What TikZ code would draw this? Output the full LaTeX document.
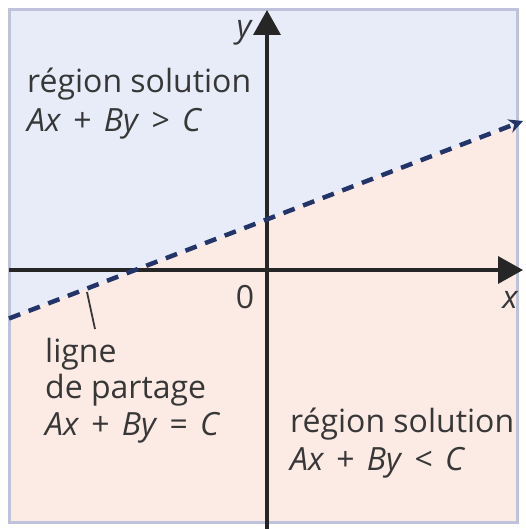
\documentclass[tikz,border=0pt]{standalone}
\usepackage{fontspec}
\setmainfont{Open Sans}
\usetikzlibrary{arrows.meta}
\definecolor{upblue}{RGB}{231,236,248}
\definecolor{lowpink}{RGB}{252,234,228}
\definecolor{framec}{RGB}{190,194,218}
\definecolor{navy}{RGB}{35,52,105}
\definecolor{txt}{RGB}{55,55,55}
\newcommand{\opr}[1]{\kern0.38em#1\kern0.38em}
\begin{document}
\begin{tikzpicture}[x=1pt,y=-1pt,
  lbl/.style={anchor=base west,inner sep=0pt,text=txt,font=\fontsize{32}{36}\selectfont},
  axlbl/.style={inner sep=0pt,text=txt,font=\fontsize{32}{36}\selectfont},
  axis/.style={line width=3.5pt,black!85,-{Triangle[length=25pt,width=27pt]}},
  divline/.style={line width=4.5pt,navy,dash pattern=on 12pt off 9pt,-{Stealth[length=14pt,width=14pt]}}]
\useasboundingbox (0,0) rectangle (525,529);
% regions
\fill[upblue] (9,10) -- (517,10) -- (517,123.5) -- (9,318.5) -- cycle;
\fill[lowpink] (9,318.5) -- (517,123.5) -- (517,522) -- (9,522) -- cycle;
\draw[framec,line width=3pt] (9,10) rectangle (517,522);
% axes
\coordinate (xl) at (9,270);
\coordinate (xr) at (523,270);
\coordinate (yb) at (267,529);
\coordinate (yt) at (267,10);
\draw[axis] (xl) -- (xr);
\draw[axis] (yb) -- (yt);
% dividing line
\coordinate (dl) at (9,318.5);
\coordinate (dr) at (523,121);
\draw[divline] (dl) -- (dr);
% leader
\coordinate (lead1) at (87,292);
\coordinate (lead2) at (95,329);
\draw[txt,line width=1.8pt] (lead1) -- (lead2);
% axis labels
\node[axlbl] (ylab) at (244,33) {\itshape y};
\node[axlbl] (xlab) at (510,300) {\itshape x};
\node[axlbl] (orig) at (245,297) {0};
% texts
\node[lbl] (r1a) at (27,93) {région solution};
\node[lbl] (r1b) at (27,132) {\textit{Ax}\opr{+}\textit{By}\opr{>}\textit{C}};
\node[lbl] (l1) at (45,362) {ligne};
\node[lbl] (l2) at (45,398) {de partage};
\node[lbl] (l3) at (45,435) {\textit{Ax}\opr{+}\textit{By}\opr{=}\textit{C}};
\node[lbl] (r2a) at (290,432) {région solution};
\node[lbl] (r2b) at (290,470) {\textit{Ax}\opr{+}\textit{By}\opr{<}\textit{C}};
\end{tikzpicture}
\end{document}
